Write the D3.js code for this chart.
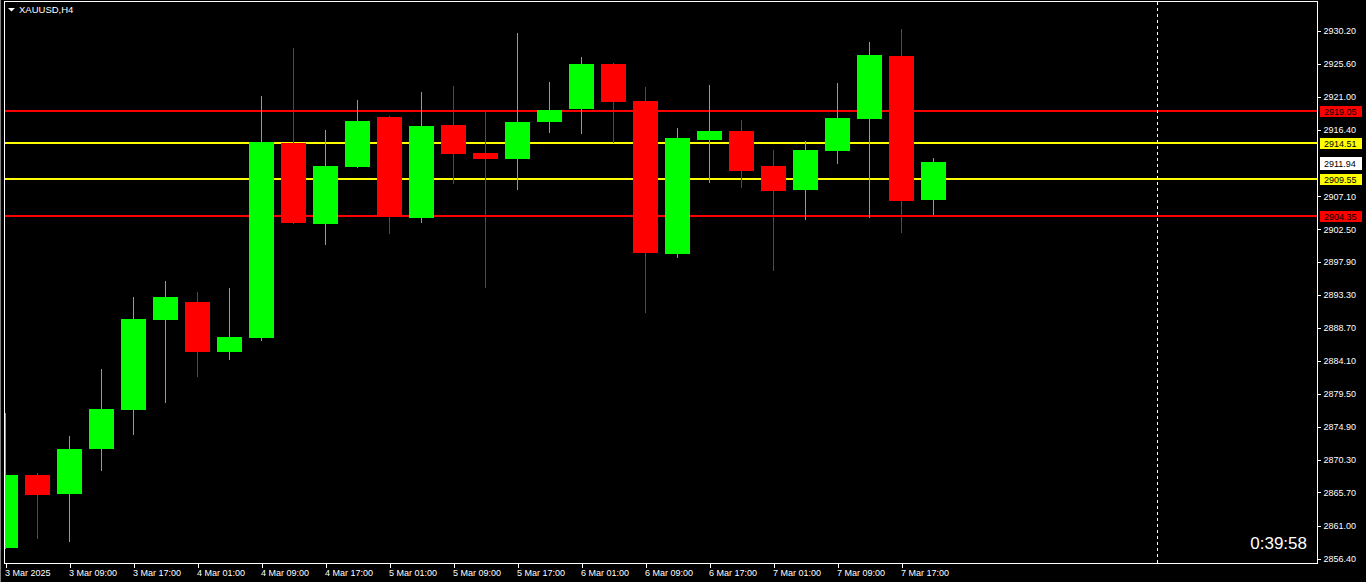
<!DOCTYPE html>
<html>
<head>
<meta charset="utf-8">
<script src="https://cdn.jsdelivr.net/npm/d3@7/dist/d3.min.js"></script>
<style>
  html, body { margin: 0; padding: 0; background: #000; overflow: hidden; }
  svg { display: block; }
  text { font-family: "Liberation Sans", Arial, sans-serif; }
</style>
</head>
<body>
<svg id="chart" width="1366" height="582"></svg>
<script>
// ---------- DATA ----------
const symbolTitle = "XAUUSD,H4";
const bars = [
  "2025-03-03 01:00","2025-03-03 05:00","2025-03-03 09:00","2025-03-03 13:00","2025-03-03 17:00","2025-03-03 21:00",
  "2025-03-04 01:00","2025-03-04 05:00","2025-03-04 09:00","2025-03-04 13:00","2025-03-04 17:00","2025-03-04 21:00",
  "2025-03-05 01:00","2025-03-05 05:00","2025-03-05 09:00","2025-03-05 13:00","2025-03-05 17:00","2025-03-05 21:00",
  "2025-03-06 01:00","2025-03-06 05:00","2025-03-06 09:00","2025-03-06 13:00","2025-03-06 17:00","2025-03-06 21:00",
  "2025-03-07 01:00","2025-03-07 05:00","2025-03-07 09:00","2025-03-07 13:00","2025-03-07 17:00","2025-03-07 21:00"
];
const open  = [2857.98,2868.14,2865.48,2871.77,2877.22,2889.80,2892.32,2885.33,2887.33,2914.54,2903.26,2911.23,2918.18,2904.10,2917.06,2913.15,2912.35,2917.52,2919.34,2925.59,2920.42,2899.07,2915.01,2916.22,2911.33,2908.02,2913.47,2917.94,2926.71,2906.62];
const high  = [2876.80,2868.42,2873.59,2882.95,2893.02,2895.25,2893.72,2894.28,2921.11,2927.82,2916.36,2920.56,2918.25,2921.67,2922.51,2918.98,2929.92,2923.07,2926.57,2925.70,2922.37,2916.64,2922.65,2917.76,2913.57,2914.82,2922.93,2928.66,2930.48,2912.45];
const low   = [2857.79,2859.23,2858.77,2868.70,2873.73,2878.20,2881.83,2884.21,2886.91,2903.26,2900.33,2911.09,2901.87,2903.40,2908.86,2894.32,2908.02,2915.98,2915.84,2914.59,2890.82,2898.51,2909.00,2908.30,2896.69,2903.82,2911.65,2904.10,2902.01,2904.52];
const close = [2868.14,2865.34,2871.77,2877.36,2889.94,2893.02,2885.33,2887.43,2914.68,2903.40,2911.33,2917.62,2904.38,2916.92,2913.05,2912.35,2917.48,2919.16,2925.59,2920.32,2899.21,2915.24,2916.22,2910.67,2907.88,2913.57,2918.04,2926.85,2906.44,2911.94];

const xTickBars   = ["2025-03-03 01:00","2025-03-03 09:00","2025-03-03 17:00","2025-03-04 01:00","2025-03-04 09:00","2025-03-04 17:00","2025-03-05 01:00","2025-03-05 09:00","2025-03-05 17:00","2025-03-06 01:00","2025-03-06 09:00","2025-03-06 17:00","2025-03-07 01:00","2025-03-07 09:00","2025-03-07 17:00"];
const xTickLabels = ["3 Mar 2025","3 Mar 09:00","3 Mar 17:00","4 Mar 01:00","4 Mar 09:00","4 Mar 17:00","5 Mar 01:00","5 Mar 09:00","5 Mar 17:00","6 Mar 01:00","6 Mar 09:00","6 Mar 17:00","7 Mar 01:00","7 Mar 09:00","7 Mar 17:00"];
const yTickValues = [2930.20,2925.60,2921.00,2916.40,2907.10,2902.50,2897.90,2893.30,2888.70,2884.10,2879.50,2874.90,2870.30,2865.70,2861.00,2856.40];

const levelValues = [2919.05, 2914.51, 2909.55, 2904.35];
const levelColors = ["#ff0000", "#ffff00", "#ffff00", "#ff0000"];
const currentPrice = 2911.94;
const vlineBarsAhead = 36;      // vertical dashed line, in bar units from first bar
const timerText = "0:39:58";

// ---------- LAYOUT ----------
const W = 1366, H = 582;
const frame = { left: 4.5, right: 1317.5, top: 1.5, bottom: 563.5 };
const barStep = 32, bodyW = 25;

const svg = d3.select("#chart");
svg.append("rect").attr("width", W).attr("height", H).attr("fill", "#000");

const x = d3.scaleLinear().domain([0, 1]).range([5.5, 5.5 + barStep]);
const y = d3.scaleLinear().domain([2856.40, 2930.20]).range([559, 31]);
const idx = b => bars.indexOf(b);

// clip for plot
svg.append("clipPath").attr("id", "plotClip")
  .append("rect").attr("x", 5).attr("y", 2).attr("width", frame.right - 5).attr("height", frame.bottom - 2);

const plot = svg.append("g").attr("clip-path", "url(#plotClip)").attr("shape-rendering", "crispEdges");

// horizontal level lines (behind candles)
plot.selectAll("line.level").data(levelValues).join("line")
  .attr("class", "level")
  .attr("x1", 5).attr("x2", frame.right)
  .attr("y1", d => Math.round(y(d)))
  .attr("y2", d => Math.round(y(d)))
  .attr("stroke", (d, i) => levelColors[i])
  .attr("stroke-width", 2);

// vertical dashed line
plot.append("line")
  .attr("x1", x(vlineBarsAhead)).attr("x2", x(vlineBarsAhead))
  .attr("y1", 2).attr("y2", frame.bottom)
  .attr("stroke", "#ffffff").attr("stroke-width", 1)
  .attr("stroke-dasharray", "3,3");

// candles
const candles = bars.map((b, i) => ({ i, o: open[i], h: high[i], l: low[i], c: close[i] }));
const colorOf = d => d.c >= d.o ? "#00ff00" : "#ff0000";

plot.selectAll("line.wick").data(candles).join("line")
  .attr("class", "wick")
  .attr("x1", d => x(d.i)).attr("x2", d => x(d.i))
  .attr("y1", d => y(d.h)).attr("y2", d => y(d.l))
  .attr("stroke", colorOf).attr("stroke-width", 1);

plot.selectAll("rect.body").data(candles).join("rect")
  .attr("class", "body")
  .attr("x", d => x(d.i) - bodyW / 2)
  .attr("width", bodyW)
  .attr("y", d => y(Math.max(d.o, d.c)))
  .attr("height", d => Math.max(1, y(Math.min(d.o, d.c)) - y(Math.max(d.o, d.c))))
  .attr("fill", colorOf);

// frame
svg.append("rect")
  .attr("x", frame.left).attr("y", frame.top)
  .attr("width", frame.right - frame.left).attr("height", frame.bottom - frame.top)
  .attr("fill", "none").attr("stroke", "#ffffff").attr("stroke-width", 1)
  .attr("shape-rendering", "crispEdges");
svg.append("line").attr("x1", 0.5).attr("x2", 0.5).attr("y1", 0).attr("y2", H)
  .attr("stroke", "#808080").attr("shape-rendering", "crispEdges");

// title
svg.append("path").attr("d", "M8,8 L15,8 L11.5,11.5 Z").attr("fill", "#ffffff");
svg.append("text").attr("x", 19).attr("y", 12.5)
  .attr("fill", "#ffffff").attr("font-size", "9.5px").text(symbolTitle);

// y axis (price scale on the right)
const yAxis = svg.append("g").attr("transform", `translate(${frame.right},0)`);
const yAx = d3.axisRight(y).tickValues(yTickValues).tickSize(3).tickPadding(3)
  .tickFormat(d3.format(".2f"));
yAxis.call(yAx);
yAxis.select(".domain").remove();
yAxis.selectAll(".tick line").attr("stroke", "#ffffff").attr("shape-rendering", "crispEdges");
yAxis.selectAll(".tick text").attr("fill", "#ffffff").attr("font-size", "9px")
  .attr("font-family", '"Liberation Sans", Arial, sans-serif');

// price tags
const tags = levelValues.map((v, i) => ({ v, bg: levelColors[i], fg: "#000000" }));
tags.push({ v: currentPrice, bg: "#ffffff", fg: "#000000" });
const tagG = svg.append("g");
tagG.selectAll("rect").data(tags).join("rect")
  .attr("x", 1320).attr("width", 42)
  .attr("y", d => Math.round(y(d.v)) - 5.5)
  .attr("height", d => d.v === currentPrice ? 13 : 11)
  .attr("fill", d => d.bg).attr("shape-rendering", "crispEdges");
tagG.selectAll("text").data(tags).join("text")
  .attr("x", 1324).attr("y", d => Math.round(y(d.v)) + 3.5 + (d.v === currentPrice ? 1 : 0))
  .attr("fill", d => d.fg).attr("font-size", "9px")
  .text(d => d3.format(".2f")(d.v));

// x axis (time scale at the bottom)
const xAxisG = svg.append("g").attr("transform", `translate(0,${frame.bottom})`);
const xAx = d3.axisBottom(x).tickValues(xTickBars.map(idx)).tickSize(4).tickPadding(2)
  .tickFormat((d, i) => xTickLabels[i]);
xAxisG.call(xAx);
xAxisG.select(".domain").remove();
xAxisG.selectAll(".tick line").attr("stroke", "#ffffff").attr("shape-rendering", "crispEdges");
xAxisG.selectAll(".tick text").attr("fill", "#ffffff").attr("font-size", "9px")
  .attr("font-family", '"Liberation Sans", Arial, sans-serif')
  .attr("text-anchor", "start").attr("x", -1);

// timer
svg.append("text").attr("x", 1307).attr("y", 549).attr("text-anchor", "end")
  .attr("fill", "#ffffff").attr("font-size", "17px").text(timerText);
</script>
</body>
</html>
